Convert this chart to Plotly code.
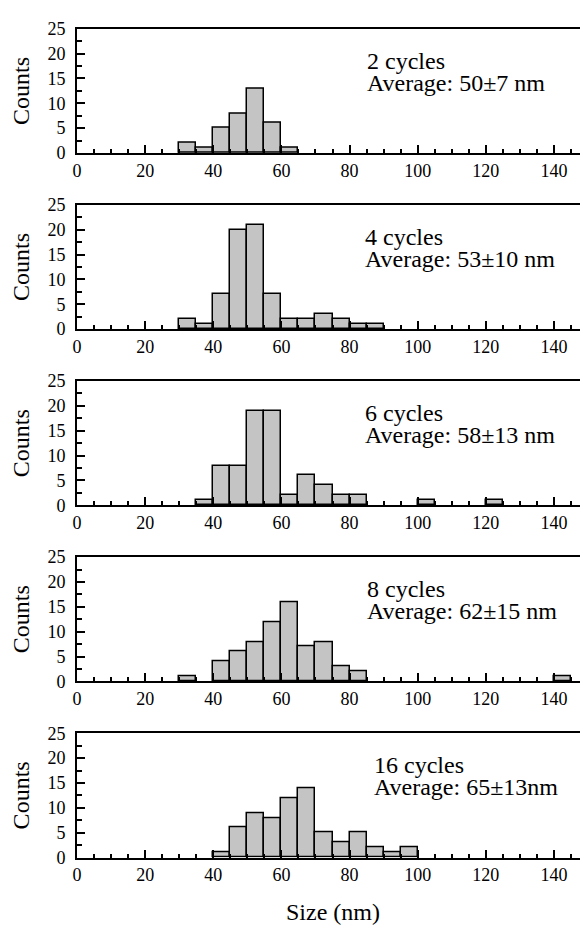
import plotly.graph_objects as go
from plotly.subplots import make_subplots

# Histogram bins (left edges, width 5 nm)
bin_left = [30, 35, 40, 45, 50, 55, 60, 65, 70, 75, 80, 85, 90, 95,
            100, 105, 110, 115, 120, 125, 130, 135, 140, 145]
bin_width = 5

counts_2 = [2, 1, 5, 8, 13, 6, 1, 0, 0, 0, 0, 0, 0, 0, 0, 0, 0, 0, 0, 0, 0, 0, 0, 0]
counts_4 = [2, 1, 7, 20, 21, 7, 2, 2, 3, 2, 1, 1, 0, 0, 0, 0, 0, 0, 0, 0, 0, 0, 0, 0]
counts_6 = [0, 1, 8, 8, 19, 19, 2, 6, 4, 2, 2, 0, 0, 0, 1, 0, 0, 0, 1, 0, 0, 0, 0, 0]
counts_8 = [1, 0, 4, 6, 8, 12, 16, 7, 8, 3, 2, 0, 0, 0, 0, 0, 0, 0, 0, 0, 0, 0, 1, 0]
counts_16 = [0, 0, 1, 6, 9, 8, 12, 14, 5, 3, 5, 2, 1, 2, 0, 0, 0, 0, 0, 0, 0, 0, 0, 0]

panel_counts = [counts_2, counts_4, counts_6, counts_8, counts_16]
cycle_labels = ["2 cycles", "4 cycles", "6 cycles", "8 cycles", "16 cycles"]
average_labels = ["Average: 50±7 nm", "Average: 53±10 nm", "Average: 58±13 nm",
                  "Average: 62±15 nm", "Average: 65±13nm"]
label_x = [84.4, 84.0, 84.0, 84.5, 86.5]

x_ticks = [0, 20, 40, 60, 80, 100, 120, 140]
y_ticks = [0, 5, 10, 15, 20, 25]

FONT = "Liberation Serif"
OFF = 8                      # default page body margin
W, H = 588 - OFF, 936 - OFF
ML = 77 - OFF

fig = make_subplots(rows=5, cols=1)

for i, counts in enumerate(panel_counts):
    xs = [b + bin_width / 2 for b, c in zip(bin_left, counts) if c > 0]
    ys = [c for c in counts if c > 0]
    fig.add_trace(go.Bar(x=xs, y=ys, width=bin_width,
                         marker=dict(color="#c4c4c4",
                                     line=dict(color="black", width=1.5)),
                         showlegend=False), row=i + 1, col=1)

axis_common = dict(showgrid=False, zeroline=False, showline=True,
                   linecolor="black", linewidth=2, ticks="inside",
                   tickcolor="black", tickwidth=1.5,
                   tickfont=dict(family=FONT, size=18, color="black"))

for i in range(5):
    top_px = 19 + 180 * i - OFF
    bot_px = 146 + 180 * i - OFF
    dom = [1 - bot_px / H, 1 - top_px / H]
    xa = "xaxis" if i == 0 else f"xaxis{i+1}"
    ya = "yaxis" if i == 0 else f"yaxis{i+1}"
    fig.layout[xa].update(domain=[0, 1], range=[0, 150], tickvals=x_ticks,
                          ticklen=8, mirror=True,
                          minor=dict(dtick=5, tick0=0, ticklen=4, ticks="inside",
                                     tickcolor="black", tickwidth=1.5),
                          **axis_common)
    fig.layout[ya].update(domain=dom, range=[0, 25], tickvals=y_ticks,
                          ticklen=8, mirror=False, ticklabelstandoff=6,
                          minor=dict(dtick=2.5, tick0=0, ticklen=5, ticks="inside",
                                     tickcolor="black", tickwidth=1.5),
                          **axis_common)
    xref = "x" if i == 0 else f"x{i+1}"
    yref = "y" if i == 0 else f"y{i+1}"
    fig.add_annotation(x=label_x[i], y=18.6, xref=xref, yref=yref,
                       text=cycle_labels[i], showarrow=False, xanchor="left",
                       yanchor="middle",
                       font=dict(family=FONT, size=24, color="black"))
    fig.add_annotation(x=label_x[i], y=14.1, xref=xref, yref=yref,
                       text=average_labels[i], showarrow=False, xanchor="left",
                       yanchor="middle",
                       font=dict(family=FONT, size=24, color="black"))
    fig.add_annotation(x=(21 - 77) / (588 - 77), y=(dom[0] + dom[1]) / 2,
                       xref="paper", yref="paper", text="Counts",
                       textangle=-90, showarrow=False,
                       xanchor="center", yanchor="middle",
                       font=dict(family=FONT, size=24, color="black"))

fig.add_annotation(x=0.5, y=1 - (922 - OFF) / H, xref="paper", yref="paper",
                   text="Size (nm)", showarrow=False, xanchor="center",
                   yanchor="middle",
                   font=dict(family=FONT, size=24, color="black"))

fig.update_layout(width=W, height=H, margin=dict(l=ML, r=0, t=0, b=0),
                  plot_bgcolor="white", paper_bgcolor="white",
                  bargap=0, font=dict(family=FONT, color="black"))

fig.write_html("out.html")
